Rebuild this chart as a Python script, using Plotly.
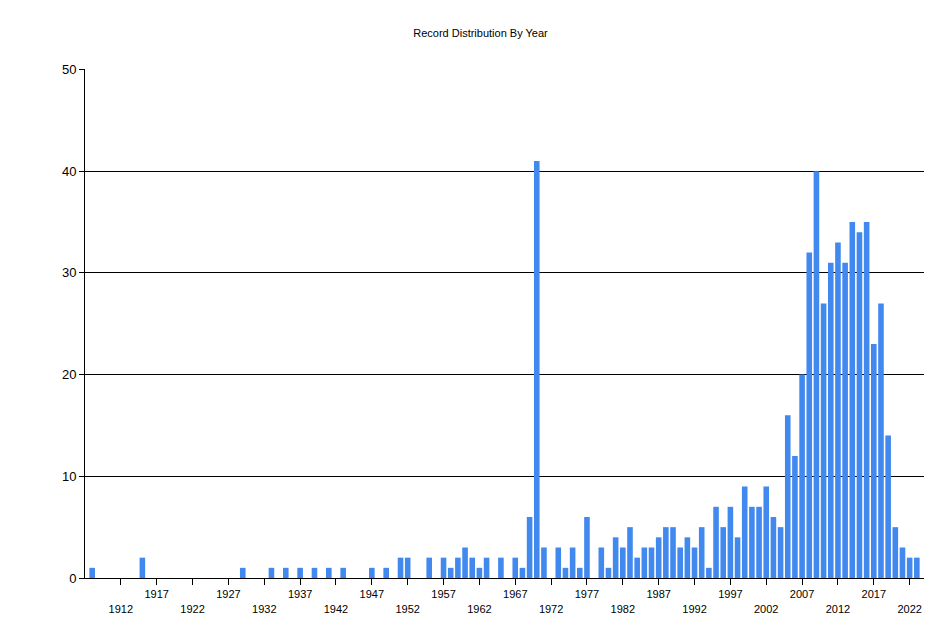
import plotly.graph_objects as go

years = list(range(1908, 2024))
counts_map = {
    1908: 1, 1915: 2, 1929: 1, 1933: 1, 1935: 1, 1937: 1, 1939: 1, 1941: 1, 1943: 1,
    1947: 1, 1949: 1, 1951: 2, 1952: 2, 1955: 2, 1957: 2, 1958: 1, 1959: 2, 1960: 3,
    1961: 2, 1962: 1, 1963: 2, 1965: 2, 1967: 2, 1968: 1, 1969: 6, 1970: 41, 1971: 3,
    1973: 3, 1974: 1, 1975: 3, 1976: 1, 1977: 6, 1979: 3, 1980: 1, 1981: 4, 1982: 3,
    1983: 5, 1984: 2, 1985: 3, 1986: 3, 1987: 4, 1988: 5, 1989: 5, 1990: 3, 1991: 4,
    1992: 3, 1993: 5, 1994: 1, 1995: 7, 1996: 5, 1997: 7, 1998: 4, 1999: 9, 2000: 7,
    2001: 7, 2002: 9, 2003: 6, 2004: 5, 2005: 16, 2006: 12, 2007: 20, 2008: 32,
    2009: 40, 2010: 27, 2011: 31, 2012: 33, 2013: 31, 2014: 35, 2015: 34, 2016: 35,
    2017: 23, 2018: 27, 2019: 14, 2020: 5, 2021: 3, 2022: 2, 2023: 2,
}
counts = [counts_map.get(y, 0) for y in years]
tick_years = list(range(1912, 2023, 5))
tick_text = [str(y) if (y - 1912) % 10 else "<br>" + str(y) for y in tick_years]

fig = go.Figure(go.Bar(x=years, y=counts, marker_color="#4189EE", marker_line_width=0))
fig.update_layout(
    width=945, height=630, plot_bgcolor="white", paper_bgcolor="white",
    margin=dict(l=77, r=29, t=61, b=60, autoexpand=False), bargap=0.22, showlegend=False,
    font=dict(family="Liberation Sans, Arial", size=11, color="black"),
    title=dict(text="Record Distribution By Year", x=0.5, xanchor="center",
               yref="container", y=1 - 25 / 630, yanchor="middle", font=dict(size=11)),
)
fig.update_xaxes(range=[1907, 2024], tickvals=tick_years, ticktext=tick_text,
                 ticks="outside", ticklen=6, tickcolor="black", showgrid=False,
                 showline=True, linecolor="black", linewidth=1, tickangle=0, automargin=False)
fig.update_yaxes(range=[0, 50.05], tickvals=[0, 10, 20, 30, 40, 50], showgrid=True,
                 gridcolor="black", gridwidth=1, automargin=False,
                 showline=True, linecolor="black", ticks="outside", ticklen=5,
                 tickcolor="black", zeroline=False, tickfont=dict(size=13))
fig.write_html("out.html")
